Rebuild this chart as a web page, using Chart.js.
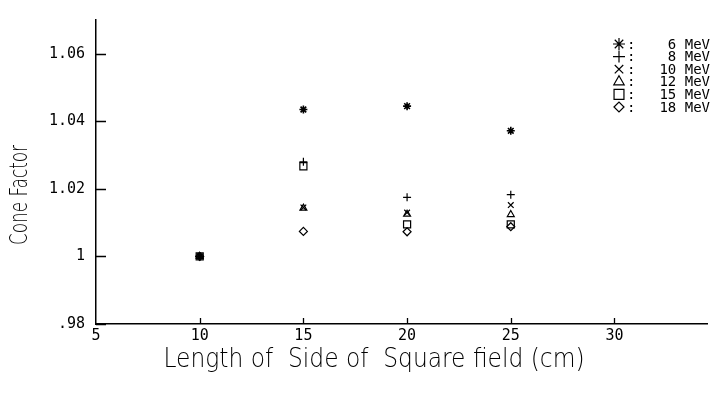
<!DOCTYPE html>
<html lang="en">
<head>
<meta charset="UTF-8">
<title>Cone Factor</title>
<style>
  body { margin: 0; background: #fff; }
  #grafico { display: block; }
</style>
</head>
<body>
<canvas id="grafico" width="714" height="398"></canvas>

<script src="https://cdn.jsdelivr.net/npm/chart.js"></script>
<script>
// field side length (cm) and measured cone factor for each electron energy
const fieldSizes = [10, 15, 20, 25];
const energies = ['6 MeV', '8 MeV', '10 MeV', '12 MeV', '15 MeV', '18 MeV'];
const cf6  = [1.0, 1.0435, 1.0445, 1.0372];
const cf8  = [1.0, 1.028,  1.0175, 1.0183];
const cf10 = [1.0, 1.0145, 1.013,  1.0152];
const cf12 = [1.0, 1.0143, 1.0125, 1.0124];
const cf15 = [1.0, 1.0267, 1.0095, 1.0095];
const cf18 = [1.0, 1.0074, 1.0073, 1.0088];

const xTicks = [5, 10, 15, 20, 25, 30];
const xTickLabels = ['5', '10', '15', '20', '25', '30'];
const yTicks = [0.98, 1.0, 1.02, 1.04, 1.06];
const yTickLabels = ['.98', '1', '1.02', '1.04', '1.06'];

const series = [cf6, cf8, cf10, cf12, cf15, cf18];
const markers = ['star', 'cross', 'crossRot', 'triangle', 'rect', 'rectRot'];
const markerSize = [4, 4, 4, 4, 5, 4];
const legendSize = [6, 6, 6, 6, 7, 5];

const monoFont = '"DejaVu Sans Mono", "Liberation Mono", monospace';
const titleFont = '"DejaVu Sans", "Liberation Sans", sans-serif';

// draws a line of text squeezed/stretched to a given width
function textoAjustado(ctx, texto, cx, cy, largura, angulo) {
  const w = ctx.measureText(texto).width;
  ctx.save();
  ctx.translate(cx, cy);
  ctx.rotate(angulo);
  ctx.scale(largura / w, 1);
  ctx.fillText(texto, 0, 0);
  ctx.restore();
}

// inward tick marks, axis titles and the symbol key
const decoracao = {
  id: 'decoracao',
  afterDraw(chart) {
    const ctx = chart.ctx;
    const sx = chart.scales.x;
    const sy = chart.scales.y;
    const area = chart.chartArea;

    ctx.save();
    ctx.strokeStyle = '#000';
    ctx.lineWidth = 1.3;
    ctx.beginPath();
    sy.ticks.forEach(t => {
      const py = Math.round(sy.getPixelForValue(t.value)) + 0.5;
      ctx.moveTo(area.left, py);
      ctx.lineTo(area.left + 10, py);
    });
    sx.ticks.forEach(t => {
      if (t.value === sx.min) return;
      const px = Math.round(sx.getPixelForValue(t.value)) + 0.5;
      ctx.moveTo(px, area.bottom);
      ctx.lineTo(px, area.bottom - 6);
    });
    ctx.stroke();

    ctx.fillStyle = '#000';
    ctx.textAlign = 'center';
    ctx.textBaseline = 'middle';
    ctx.font = '200 26px ' + titleFont;
    textoAjustado(ctx, 'Length of  Side of  Square field (cm)', 374, 360, 421, 0);
    ctx.font = '200 25px ' + titleFont;
    textoAjustado(ctx, 'Cone Factor', 20, 195, 100, -Math.PI / 2);

    // key, one row per energy
    ctx.font = '14px ' + monoFont;
    ctx.lineWidth = 1.2;
    energies.forEach((nome, i) => {
      const ry = 44 + i * 12.6;
      ctx.fillStyle = 'rgba(0,0,0,0)';
      Chart.helpers.drawPoint(ctx, {
        pointStyle: markers[i], radius: legendSize[i], borderWidth: 1.2, rotation: 0
      }, 619, ry);
      ctx.fillStyle = '#000';
      ctx.textAlign = 'left';
      ctx.fillText(':', 627, ry + 1);
      ctx.textAlign = 'right';
      ctx.fillText(nome, 710, ry + 1);
    });
    ctx.restore();
  }
};

const datasets = series.map((valores, k) => ({
  label: energies[k],
  data: fieldSizes.map((x, i) => ({ x: x, y: valores[i] })),
  showLine: false,
  pointStyle: markers[k],
  pointRadius: markerSize[k],
  pointBorderWidth: k === 0 ? 1.6 : 1.2,
  pointBorderColor: '#000',
  pointBackgroundColor: 'rgba(0,0,0,0)'
}));

new Chart(document.getElementById('grafico'), {
  type: 'scatter',
  data: { datasets: datasets },
  options: {
    responsive: false,
    animation: false,
    layout: { padding: { top: 6, right: 0, bottom: 0, left: 0 } },
    plugins: {
      legend: { display: false },
      tooltip: { enabled: false }
    },
    scales: {
      x: {
        type: 'linear',
        min: 5,
        max: 34.5,
        afterBuildTicks: s => { s.ticks = xTicks.map(v => ({ value: v })); },
        afterFit: s => { s.height = 74; },
        ticks: {
          callback: (v, i) => xTickLabels[i],
          color: '#000',
          font: { family: monoFont, size: 15 },
          padding: 3,
          maxRotation: 0,
          autoSkip: false
        },
        grid: { display: false, drawTicks: false },
        border: { display: true, color: '#000', width: 1.5 }
      },
      y: {
        type: 'linear',
        min: 0.98,
        max: 1.07,
        afterBuildTicks: s => { s.ticks = yTicks.map(v => ({ value: v })); },
        afterFit: s => { s.width = 96; },
        ticks: {
          callback: (v, i) => yTickLabels[i],
          color: '#000',
          font: { family: monoFont, size: 15 },
          padding: 11,
          autoSkip: false
        },
        grid: { display: false, drawTicks: false },
        border: { display: true, color: '#000', width: 1.5 }
      }
    }
  },
  plugins: [decoracao]
});
</script>
</body>
</html>
